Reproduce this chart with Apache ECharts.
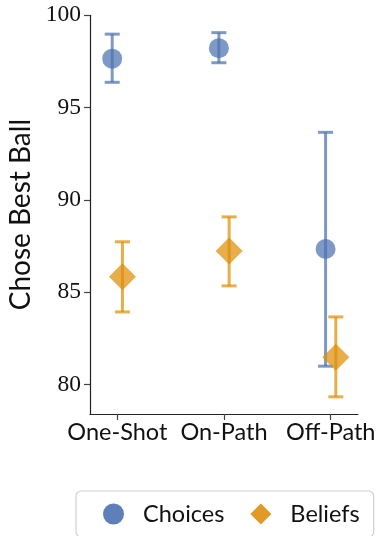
<!DOCTYPE html>
<html>
<head>
<meta charset="utf-8">
<script src="https://cdn.jsdelivr.net/npm/echarts@6/dist/echarts.min.js"></script>
<style>html,body{margin:0;padding:0;background:#fff;}#c{width:377px;height:536px;}</style>
</head>
<body>
<div id="c"></div>
<script>
const categories = ['One-Shot', 'On-Path', 'Off-Path'];
const choicesMean = [97.65, 98.22, 87.34];
const choicesLow  = [96.37, 97.43, 80.99];
const choicesHigh = [98.98, 99.06, 93.66];
const beliefsMean = [85.83, 87.23, 81.48];
const beliefsLow  = [83.93, 85.34, 79.33];
const beliefsHigh = [87.73, 89.08, 83.66];
const yTicks = [80, 85, 90, 95, 100];

const BLUE = '#4c72b0', ORANGE = '#de8f05', ALPHA = 0.72;
const DODGE = 0.048;

function pts(mean, off) { return mean.map((v, i) => [i + off, v]); }
function errs(lo, hi, off) { return lo.map((v, i) => [i + off, v, hi[i]]); }

function errRender(color) {
  return function (params, api) {
    const x = api.value(0), lo = api.value(1), hi = api.value(2);
    const pLo = api.coord([x, lo]), pHi = api.coord([x, hi]);
    const hw = 7.5;
    const st = { stroke: color, lineWidth: 3, opacity: ALPHA };
    return {
      type: 'group',
      children: [
        { type: 'line', shape: { x1: pLo[0], y1: pLo[1], x2: pHi[0], y2: pHi[1] }, style: st },
        { type: 'line', shape: { x1: pLo[0] - hw, y1: pLo[1], x2: pLo[0] + hw, y2: pLo[1] }, style: st },
        { type: 'line', shape: { x1: pHi[0] - hw, y1: pHi[1], x2: pHi[0] + hw, y2: pHi[1] }, style: st }
      ]
    };
  };
}

const chart = echarts.init(document.getElementById('c'), null, { renderer: 'canvas' });
chart.setOption({
  animation: false,
  backgroundColor: '#fff',
  grid: { left: 90, right: 19, top: 15.3, bottom: 122, containLabel: false, outerBoundsMode: 'none' },
  xAxis: {
    type: 'value', min: -0.256, max: 2.256, interval: 1,
    splitLine: { show: false },
    axisLine: { onZero: false, lineStyle: { color: '#222', width: 1.2 } },
    axisTick: { show: true, length: 6, lineStyle: { color: '#444', width: 1.2 }, customValues: [0, 1, 2] },
    axisLabel: {
      customValues: [0, 1, 2],
      formatter: v => categories[Math.round(v)] || '',
      fontFamily: 'Lato', fontSize: 23.5, color: '#111', margin: 6
    }
  },
  yAxis: {
    type: 'value', min: 78.4, max: 100,
    name: 'Chose Best Ball', nameLocation: 'middle', nameGap: 53, nameRotate: 90,
    nameTextStyle: { fontFamily: 'Lato', fontSize: 28, color: '#111' },
    splitLine: { show: false },
    axisLine: { show: true, onZero: false, lineStyle: { color: '#222', width: 1.2 } },
    axisTick: { show: true, length: 6, lineStyle: { color: '#444', width: 1.2 }, customValues: yTicks },
    axisLabel: {
      customValues: yTicks,
      fontFamily: 'Liberation Serif', fontSize: 23.5, color: '#111', margin: 9
    }
  },
  legend: {
    left: 76, top: 491, width: 297,
    padding: [11, 14, 11, 27],
    borderColor: '#d0d0d0', borderWidth: 1.2, borderRadius: 5,
    itemWidth: 21, itemHeight: 21, itemGap: 26,
    textStyle: { fontFamily: 'Lato', fontSize: 23.5, color: '#111', padding: [0, 0, 0, 14] },
    data: [
      { name: 'Choices', icon: 'circle', itemStyle: { color: '#5f7fb8', opacity: 1 } },
      { name: 'Beliefs', icon: 'diamond', itemStyle: { color: '#e09a26', opacity: 1 } }
    ]
  },
  series: [
    {
      name: 'Choices', type: 'scatter', symbol: 'circle', symbolSize: 20,
      itemStyle: { color: BLUE, opacity: ALPHA }, z: 2,
      data: pts(choicesMean, -DODGE)
    },
    {
      name: 'ChoicesErr', type: 'custom', renderItem: errRender(BLUE), z: 3,
      data: errs(choicesLow, choicesHigh, -DODGE)
    },
    {
      name: 'Beliefs', type: 'scatter', symbol: 'diamond', symbolSize: 27,
      itemStyle: { color: ORANGE, opacity: ALPHA }, z: 4,
      data: pts(beliefsMean, DODGE)
    },
    {
      name: 'BeliefsErr', type: 'custom', renderItem: errRender(ORANGE), z: 5,
      data: errs(beliefsLow, beliefsHigh, DODGE)
    }
  ]
});
</script>
</body>
</html>
